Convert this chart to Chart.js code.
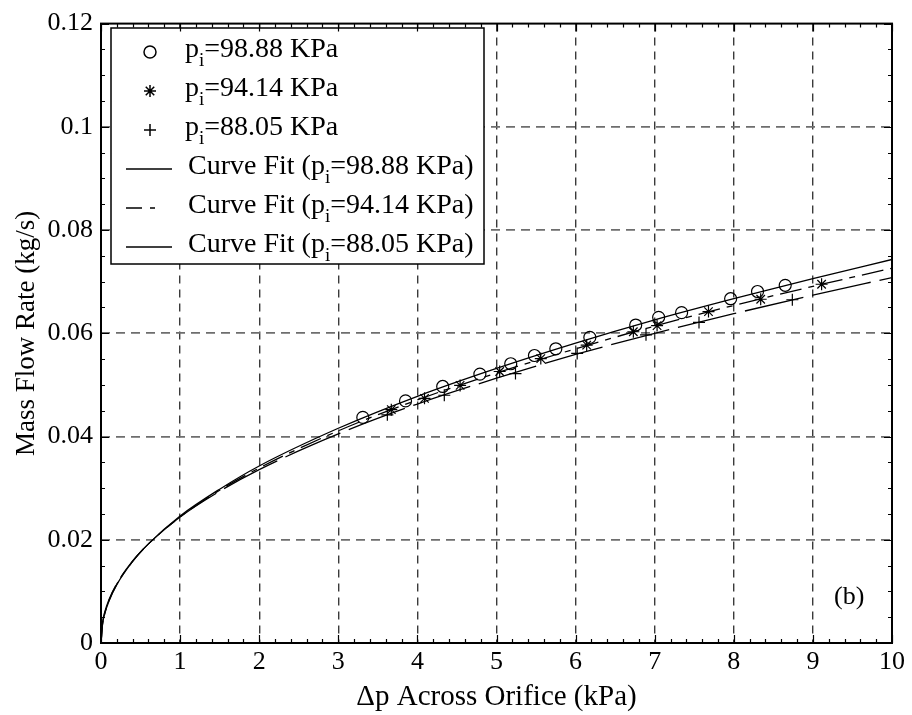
<!DOCTYPE html>
<html>
<head>
<meta charset="utf-8">
<script src="https://cdn.jsdelivr.net/npm/chart.js@4"></script>
<style>
    body { margin: 0; background: #fff; }
</style>
</head>
<body>
<canvas id="flowChart" width="912" height="715"></canvas>
<script>
const circleX = [3.31, 3.85, 4.32, 4.79, 5.18, 5.48, 5.75, 6.18, 6.76, 7.05, 7.34, 7.96, 8.30, 8.65];
const circleY = [0.0437, 0.0469, 0.0497, 0.0521, 0.0541, 0.0557, 0.0570, 0.0592, 0.0616, 0.0631, 0.0640, 0.0667, 0.0681, 0.0693];
const starX = [3.67, 4.09, 4.54, 5.04, 5.56, 6.14, 6.73, 7.03, 7.68, 8.34, 9.11];
const starY = [0.0452, 0.0474, 0.0499, 0.0526, 0.0551, 0.0577, 0.0603, 0.0615, 0.0642, 0.0666, 0.0695];
const plusX = [3.62, 4.34, 5.24, 6.02, 6.89, 7.56, 8.74];
const plusY = [0.0442, 0.0480, 0.0522, 0.0561, 0.0597, 0.0621, 0.0665];

// Curve fits, read at these pressure drops
const fitX = [0, 0.02, 0.05, 0.1, 0.2, 0.4, 0.6, 1, 1.5, 2, 3, 4, 5, 6, 7, 8, 9, 10];
const fit9888 = [0, 0.0037, 0.0058, 0.0081, 0.0113, 0.0158, 0.0192, 0.0246, 0.0298, 0.0343, 0.0416, 0.0478, 0.0532, 0.0581, 0.0626, 0.0667, 0.0706, 0.0743];
const fit9414 = [0, 0.0038, 0.0059, 0.0082, 0.0114, 0.0158, 0.0192, 0.0244, 0.0296, 0.0339, 0.0411, 0.0471, 0.0523, 0.0570, 0.0614, 0.0654, 0.0691, 0.0726];
const fit8805 = [0, 0.0040, 0.0061, 0.0084, 0.0115, 0.0159, 0.0192, 0.0244, 0.0294, 0.0336, 0.0405, 0.0463, 0.0513, 0.0559, 0.0600, 0.0638, 0.0674, 0.0708];

const xTickLabels = ['0', '1', '2', '3', '4', '5', '6', '7', '8', '9', '10'];
const yTickLabels = ['0', '0.02', '0.04', '0.06', '0.08', '0.1', '0.12'];

const pressures = ['98.88', '94.14', '88.05'];

const SERIF = '"Liberation Serif", "Times New Roman", serif';

const toPoints = (xs, ys) => xs.map((x, i) => ({ x: x, y: ys[i] }));

// hide the grid lines that sit on the frame
const innerGrid = (color) => (ctx) => {
    const n = ctx.scale.ticks.length;
    return (ctx.index === 0 || ctx.index === n - 1) ? 'rgba(0,0,0,0)' : color;
};

// frame + inward major/minor ticks on all four sides, plus the "(b)" tag
const framePlugin = {
    id: 'frame',
    afterDraw(chart) {
        const { ctx, chartArea: a, scales: { x, y } } = chart;
        ctx.save();
        ctx.strokeStyle = '#000';
        ctx.lineWidth = 1.2;
        ctx.beginPath();
        for (let v = 0; v <= 10.001; v += 0.2) {
            const px = Math.round(x.getPixelForValue(v)) + 0.5;
            const len = Math.abs(v - Math.round(v)) < 0.01 ? 8 : 4;
            ctx.moveTo(px, a.bottom); ctx.lineTo(px, a.bottom - len);
            ctx.moveTo(px, a.top); ctx.lineTo(px, a.top + len);
        }
        for (let i = 0; i <= 24; i++) {
            const py = Math.round(y.getPixelForValue(i * 0.005)) + 0.5;
            const len = i % 4 === 0 ? 8 : 4;
            ctx.moveTo(a.left, py); ctx.lineTo(a.left + len, py);
            ctx.moveTo(a.right, py); ctx.lineTo(a.right - len, py);
        }
        ctx.stroke();
        ctx.lineWidth = 2;
        ctx.strokeRect(a.left, a.top, a.right - a.left, a.bottom - a.top);

        ctx.fillStyle = '#000';
        ctx.font = '26px ' + SERIF;
        ctx.textAlign = 'left';
        ctx.textBaseline = 'alphabetic';
        ctx.fillText('(b)', 834, 604);
        ctx.restore();
    }
};

// legend with subscripted p_i
const legendPlugin = {
    id: 'piLegend',
    afterDatasetsDraw(chart) {
        const ctx = chart.ctx;
        const box = { left: 111, top: 28, right: 484, bottom: 264 };
        const rows = [52, 91, 130, 169, 208, 247];
        ctx.save();
        ctx.fillStyle = '#fff';
        ctx.fillRect(box.left, box.top, box.right - box.left, box.bottom - box.top);
        ctx.strokeStyle = '#000';
        ctx.lineWidth = 1.5;
        ctx.strokeRect(box.left, box.top, box.right - box.left, box.bottom - box.top);

        chart.data.datasets.forEach((ds, i) => {
            const cy = rows[i];
            ctx.strokeStyle = '#000';
            if (ds.pointRadius > 0) {
                Chart.helpers.drawPoint(ctx, {
                    pointStyle: ds.pointStyle,
                    radius: ds.pointRadius,
                    borderWidth: ds.borderWidth,
                    rotation: 0
                }, 150, cy);
            } else {
                ctx.lineWidth = 1.3;
                ctx.setLineDash(ds.legendDash || []);
                ctx.beginPath();
                ctx.moveTo(126, cy);
                ctx.lineTo(172, cy);
                ctx.stroke();
                ctx.setLineDash([]);
            }
            drawLabel(ctx, ds.labelPre, ds.labelPost, i < 3 ? 185 : 188, cy + 5);
        });
        ctx.restore();
    }
};

function drawLabel(ctx, pre, post, x, y) {
    ctx.fillStyle = '#000';
    ctx.textBaseline = 'alphabetic';
    ctx.textAlign = 'left';
    ctx.font = '28px ' + SERIF;
    const head = pre + 'p';
    ctx.fillText(head, x, y);
    x += ctx.measureText(head).width;
    ctx.font = '19px ' + SERIF;
    ctx.fillText('i', x, y + 9);
    x += ctx.measureText('i').width;
    ctx.font = '28px ' + SERIF;
    ctx.fillText(post, x, y);
}

const pointSet = (xs, ys, style, radius, i) => ({
    label: 'p_i=' + pressures[i] + ' KPa',
    labelPre: '',
    labelPost: '=' + pressures[i] + ' KPa',
    data: toPoints(xs, ys),
    showLine: false,
    pointStyle: style,
    pointRadius: radius,
    pointHoverRadius: radius,
    borderColor: '#000',
    backgroundColor: 'rgba(0,0,0,0)',
    borderWidth: 1.2
});

const fitSet = (ys, dash, legendDash, i) => ({
    label: 'Curve Fit (p_i=' + pressures[i] + ' KPa)',
    labelPre: 'Curve Fit (',
    labelPost: '=' + pressures[i] + ' KPa)',
    data: toPoints(fitX, ys),
    showLine: true,
    pointRadius: 0,
    borderColor: '#000',
    borderWidth: 1.3,
    borderDash: dash,
    legendDash: legendDash,
    cubicInterpolationMode: 'monotone',
    fill: false
});

new Chart(document.getElementById('flowChart').getContext('2d'), {
    type: 'scatter',
    data: {
        datasets: [
            pointSet(circleX, circleY, 'circle', 6, 0),
            pointSet(starX, starY, 'star', 6, 1),
            pointSet(plusX, plusY, 'cross', 6, 2),
            fitSet(fit9888, [], [], 0),
            fitSet(fit9414, [22, 7, 6, 7], [16, 8, 5, 30], 1),
            fitSet(fit8805, [60, 9], [], 2)
        ]
    },
    options: {
        responsive: false,
        animation: false,
        layout: { padding: { left: 0, right: 20, top: 19, bottom: 0 } },
        plugins: {
            legend: { display: false },
            tooltip: { enabled: false }
        },
        scales: {
            x: {
                type: 'linear',
                min: 0,
                max: 10,
                afterFit: (scale) => { scale.height = 72; },
                ticks: {
                    stepSize: 1,
                    padding: 4,
                    color: '#000',
                    font: { family: SERIF, size: 26 },
                    callback: (v, i) => xTickLabels[i]
                },
                grid: { color: innerGrid('#3a3a3a'), lineWidth: 1.4, drawTicks: false },
                border: { display: false, dash: [8, 6] },
                title: {
                    display: true,
                    text: '\u0394p Across Orifice (kPa)',
                    color: '#000',
                    font: { family: SERIF, size: 29 },
                    padding: { top: 0, bottom: 0 }
                }
            },
            y: {
                type: 'linear',
                min: 0,
                max: 0.12,
                afterFit: (scale) => { scale.width = 101; },
                ticks: {
                    stepSize: 0.02,
                    padding: 8,
                    color: '#000',
                    font: { family: SERIF, size: 26 },
                    callback: (v, i) => yTickLabels[i]
                },
                grid: { color: innerGrid('#6e6e6e'), lineWidth: 1.8, drawTicks: false },
                border: { display: false, dash: [9, 6] },
                title: {
                    display: true,
                    text: 'Mass Flow Rate (kg/s)',
                    color: '#000',
                    font: { family: SERIF, size: 27 },
                    padding: { top: 11, bottom: 0 }
                }
            }
        }
    },
    plugins: [framePlugin, legendPlugin]
});
</script>
</body>
</html>
